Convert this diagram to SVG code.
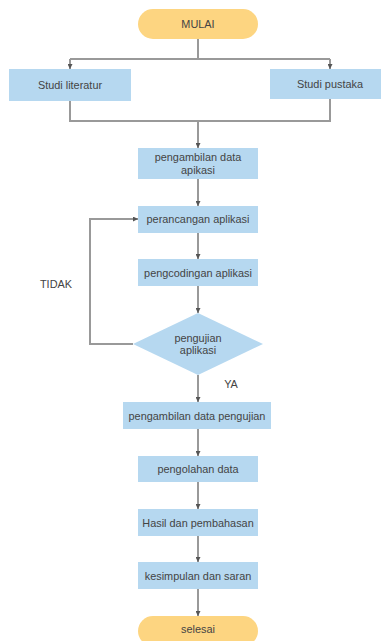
<svg xmlns="http://www.w3.org/2000/svg" width="381" height="641" viewBox="0 0 381 641">
<defs>
<style>
.t{fill:#fdd581;}
.b{fill:#b6d8f0;}
.lbl{font-family:"Liberation Sans",Arial,sans-serif;font-size:10.9px;fill:#444;text-anchor:middle;dominant-baseline:central;}
.c{fill:none;stroke:#999;stroke-width:2;}
</style>
<marker id="ah" viewBox="0 0 10 10" refX="10" refY="5" markerWidth="5" markerHeight="5" orient="auto" markerUnits="userSpaceOnUse">
<path d="M0,0 L10,5 L0,10 Z" fill="#555"/>
</marker>
</defs>
<rect width="381" height="641" fill="#fff"/>
<g id="connectors">
<path class="c" d="M198,39 V59 M70,59 H330"/>
<path class="c" d="M70,59 V69" marker-end="url(#ah)"/>
<path class="c" d="M330,59 V69" marker-end="url(#ah)"/>
<path class="c" d="M70,101 V121 H330 V99"/>
<path class="c" d="M198,121 V148" marker-end="url(#ah)"/>
<path class="c" d="M198,179 V206" marker-end="url(#ah)"/>
<path class="c" d="M198,233 V259" marker-end="url(#ah)"/>
<path class="c" d="M198,286 V313" marker-end="url(#ah)"/>
<path class="c" d="M133,344 H90 V219 H138" marker-end="url(#ah)"/>
<path class="c" d="M198,375 V402" marker-end="url(#ah)"/>
<path class="c" d="M198,429 V456" marker-end="url(#ah)"/>
<path class="c" d="M198,482 V509" marker-end="url(#ah)"/>
<path class="c" d="M198,536 V562" marker-end="url(#ah)"/>
<path class="c" d="M198,589 V616" marker-end="url(#ah)"/>
<text class="lbl" x="56" y="284">TIDAK</text>
<text class="lbl" x="231" y="384">YA</text>
</g>
<g id="mulai"><rect class="t" x="138" y="9" width="120" height="30" rx="15"/><text class="lbl" x="198" y="24">MULAI</text></g>
<g id="studi-literatur"><rect class="b" x="9" y="69" width="122" height="32"/><text class="lbl" x="70" y="85">Studi literatur</text></g>
<g id="studi-pustaka"><rect class="b" x="270" y="69" width="120" height="30"/><text class="lbl" x="330" y="84">Studi pustaka</text></g>
<g id="pengambilan-data-apikasi"><rect class="b" x="138" y="148" width="120" height="31"/><text class="lbl" x="198" y="157">pengambilan data</text><text class="lbl" x="198" y="170">apikasi</text></g>
<g id="perancangan"><rect class="b" x="138" y="206" width="120" height="27"/><text class="lbl" x="198" y="219">perancangan aplikasi</text></g>
<g id="pengcodingan"><rect class="b" x="138" y="259" width="120" height="27"/><text class="lbl" x="198" y="273">pengcodingan aplikasi</text></g>
<g id="pengujian"><polygon class="b" points="198,313 263,344 198,375 133,344"/><text class="lbl" x="198" y="338">pengujian</text><text class="lbl" x="198" y="350">aplikasi</text></g>
<g id="pengambilan-data-pengujian"><rect class="b" x="123" y="402" width="148" height="27"/><text class="lbl" x="197" y="416">pengambilan data pengujian</text></g>
<g id="pengolahan"><rect class="b" x="138" y="456" width="120" height="26"/><text class="lbl" x="198" y="469">pengolahan data</text></g>
<g id="hasil"><rect class="b" x="138" y="509" width="120" height="27"/><text class="lbl" x="198" y="523">Hasil dan pembahasan</text></g>
<g id="kesimpulan"><rect class="b" x="138" y="562" width="120" height="27"/><text class="lbl" x="198" y="576">kesimpulan dan saran</text></g>
<g id="selesai"><rect class="t" x="138" y="616" width="120" height="30" rx="15"/><text class="lbl" x="198" y="629">selesai</text></g>
</svg>
